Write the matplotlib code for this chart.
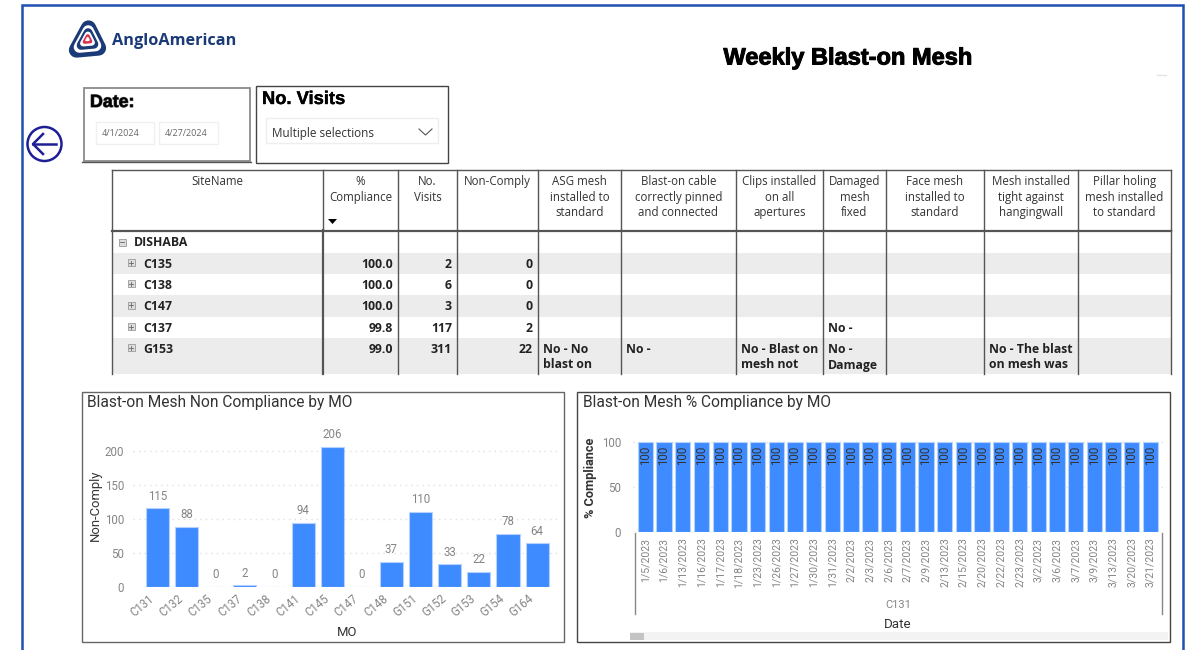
import matplotlib
matplotlib.use('Agg')

import matplotlib.pyplot as plt
import matplotlib.patheffects as pe
from matplotlib.patches import Circle, Polygon, Rectangle
from matplotlib.transforms import ScaledTranslation

# left chart
mo_names = ['C131', 'C132', 'C135', 'C137', 'C138', 'C141', 'C145', 'C147', 'C148',
            'G151', 'G152', 'G153', 'G154', 'G164']
non_comply = [115, 88, 0, 2, 0, 94, 206, 0, 37, 110, 33, 22, 78, 64]

# right chart
dates = ['1/5/2023', '1/6/2023', '1/13/2023', '1/16/2023', '1/17/2023', '1/18/2023', '1/23/2023',
         '1/26/2023', '1/27/2023', '1/30/2023', '1/31/2023', '2/2/2023', '2/3/2023', '2/6/2023',
         '2/7/2023', '2/9/2023', '2/13/2023', '2/15/2023', '2/20/2023', '2/22/2023', '2/23/2023',
         '3/2/2023', '3/6/2023', '3/7/2023', '3/9/2023', '3/13/2023', '3/20/2023', '3/21/2023']
compliance = [100] * len(dates)

# table
headers = ['SiteName', '%\nCompliance', 'No.\nVisits', 'Non-Comply', 'ASG mesh\ninstalled to\nstandard',
           'Blast-on cable\ncorrectly pinned\nand connected', 'Clips installed\non all\napertures',
           'Damaged\nmesh\nfixed', 'Face mesh\ninstalled to\nstandard',
           'Mesh installed\ntight against\nhangingwall', 'Pillar holing\nmesh installed\nto standard']
sites = ['C135', 'C138', 'C147', 'C137', 'G153']
pct_values = ['100.0', '100.0', '100.0', '99.8', '99.0']
visit_values = ['2', '6', '3', '117', '311']
noncomply_values = ['0', '0', '0', '2', '22']
reason_cells = [(3, 7, 'No -'), (4, 4, 'No - No\nblast on'), (4, 5, 'No -'),
                (4, 6, 'No - Blast on\nmesh not'), (4, 7, 'No -\nDamage'),
                (4, 9, 'No - The blast\non mesh was')]

col_x = [112, 323, 398, 457, 538, 621, 736, 823, 886, 984, 1078, 1171]
row_y = [231, 253, 274, 295, 317, 338, 374]

BAR = '#3e8bff'
BAR_EDGE = '#b5d2ff'
GREY = '#858585'
DARK = '#333333'
NAVY = '#1b3a78'
UI_FONT = 'Open Sans'
CHART_FONT = 'Roboto'

W, H = 1186, 650
fig = plt.figure(figsize=(W / 100, H / 100), dpi=100, facecolor='white')

# overlay in pixel coordinates for the report furniture
bg = fig.add_axes([0, 0, 1, 1], zorder=0)
bg.set_xlim(0, W)
bg.set_ylim(H, 0)
bg.axis('off')


def box(x0, y0, x1, y1, ec='#555555', fc='white', lw=1.0, z=1):
    bg.add_patch(Rectangle((x0, y0), x1 - x0, y1 - y0, ec=ec, fc=fc, lw=lw, zorder=z))


def px_axes(left, top, right, bottom):
    return fig.add_axes([left / W, 1 - bottom / H, (right - left) / W, (bottom - top) / H],
                        facecolor='none', zorder=2)


# outer frame
box(22, 5, 1183, 655, ec='#1f4fb0', lw=1.8)
bg.plot([1157, 1166], [75, 75], color='#e2e2e2', lw=1, zorder=2)

# logo
logo_layers = [(NAVY, 1.0), ('white', 0.74), (NAVY, 0.58), ('white', 0.40), ('#d8344c', 0.26), ('white', 0.12)]
logo_pts = [(-11, 11), (1, -11), (11, 9)]
for col, s in logo_layers:
    pts = [(87.5 + px * s, 39 + py * s) for px, py in logo_pts]
    bg.add_patch(Polygon(pts, closed=True, fc=col, ec=col, lw=11 * s, joinstyle='round', zorder=2))
bg.text(112, 41, 'AngloAmerican', fontsize=11.7, fontweight='bold', family='Open Sans',
        color=NAVY, va='center', ha='left', zorder=2)

# title
bg.text(848, 58, 'Weekly Blast-on Mesh', fontsize=17, fontweight='bold', family='Liberation Sans',
        color='black', ha='center', va='center', zorder=2,
        path_effects=[pe.withStroke(linewidth=0.7, foreground='black')])

# back arrow
bg.add_patch(Circle((44.5, 144), 17, fc='white', ec='#1e1e96', lw=1.8, zorder=2))
bg.plot([33, 56], [144, 144], color='#1e1e96', lw=1.8, zorder=3)
bg.plot([43, 33, 43], [134, 144, 154], color='#1e1e96', lw=1.8, zorder=3)

# date slicer
box(84, 88, 250, 161, ec='#8a8a8a', lw=1.3)
bg.plot([82, 251], [161.5, 161.5], color='#555555', lw=1.0, zorder=2)
bg.text(90, 102.5, 'Date:', fontsize=12.8, fontweight='bold', family='Liberation Sans', color='black',
        va='center', zorder=2, path_effects=[pe.withStroke(linewidth=0.8, foreground='#555555')])
box(96, 122, 154, 144, ec='#f0f0f0')
box(159, 122, 218, 144, ec='#f0f0f0')
bg.text(101.5, 134, '4/1/2024', fontsize=6.5, family=UI_FONT, color='#666666', ha='left', va='center', zorder=2)
bg.text(165, 134, '4/27/2024', fontsize=6.5, family=UI_FONT, color='#666666', ha='left', va='center', zorder=2)

# visits slicer
box(256, 86, 448, 163, ec='#444444', lw=1.0)
bg.text(262, 99.5, 'No. Visits', fontsize=13.2, fontweight='bold', family='Liberation Sans', color='black',
        va='center', zorder=2, path_effects=[pe.withStroke(linewidth=0.3, foreground='black')])
box(266, 118, 438, 143, ec='#eeeeee')
bg.text(272, 133, 'Multiple selections', fontsize=8.5, family=UI_FONT, color='#333333', va='center', zorder=2)
bg.plot([419, 425.5, 432], [129, 135, 129], color='#555555', lw=0.8, zorder=2)

# table stripes
for i in range(len(sites)):
    if i % 2 == 0:
        bg.add_patch(Rectangle((col_x[0], row_y[i + 1]), col_x[-1] - col_x[0], row_y[i + 2] - row_y[i + 1],
                               fc='#ececec', ec='none', zorder=1))

# table lines
for j, x in enumerate(col_x):
    lw = 1.6 if j == 1 else 1.0
    bg.plot([x, x], [170, 230], color='#555555', lw=1.0, zorder=2)
    bg.plot([x, x], [230, row_y[-1]], color='#555555', lw=lw, zorder=2)
bg.plot([col_x[0], col_x[-1]], [170, 170], color='#555555', lw=1.0, zorder=2)
bg.plot([col_x[0], col_x[-1]], [230.5, 230.5], color='#555555', lw=1.6, zorder=2)

# table text
for j, head in enumerate(headers):
    bg.text((col_x[j] + col_x[j + 1]) / 2, 175, head, fontsize=8.3, family=UI_FONT, color='#333333',
            ha='center', va='top', linespacing=1.26, zorder=3)
bg.add_patch(Polygon([(328, 219), (337, 219), (332.5, 224)], fc='black', ec='none', zorder=3))


def expander(x, y, plus):
    bg.add_patch(Rectangle((x - 3.5, y - 3.5), 7, 7, fc='#dddddd', ec='#999999', lw=0.6, zorder=3))
    bg.plot([x - 2, x + 2], [y, y], color='#666666', lw=0.6, zorder=4)
    if plus:
        bg.plot([x, x], [y - 2, y + 2], color='#666666', lw=0.6, zorder=4)


expander(122, 242, False)
bg.text(134, 243, 'DISHABA', fontsize=8.8, fontweight='bold', family=UI_FONT, color='#222222', va='center', zorder=3)

for i, site in enumerate(sites):
    y = (row_y[i + 1] + row_y[i + 2]) / 2 + 1 if i < 4 else row_y[i + 1] + 11.5
    expander(131, y - 2, True)
    bg.text(143, y, site, fontsize=8.8, fontweight='bold', family=UI_FONT, color='#222222', va='center', zorder=3)
    bg.text(393, y, pct_values[i], fontsize=8.8, fontweight='bold', family=UI_FONT, color='#222222',
            ha='right', va='center', zorder=3)
    bg.text(452, y, visit_values[i], fontsize=8.8, fontweight='bold', family=UI_FONT, color='#222222',
            ha='right', va='center', zorder=3)
    bg.text(533, y, noncomply_values[i], fontsize=8.8, fontweight='bold', family=UI_FONT, color='#222222',
            ha='right', va='center', zorder=3)

for row, col, txt in reason_cells:
    bg.text(col_x[col] + 5, row_y[row + 1] + 5, txt, fontsize=8.8, fontweight='bold', family=UI_FONT,
            color='#222222', va='top', linespacing=1.25, zorder=3)

# chart panels
box(82, 392, 564, 642, ec='#666666', lw=1.0)
box(577, 392, 1170, 642, ec='#444444', lw=1.0)
bg.text(87, 403, 'Blast-on Mesh Non Compliance by MO', fontsize=11.2, family=CHART_FONT, color=DARK, va='center', zorder=2)
bg.text(583, 403, 'Blast-on Mesh % Compliance by MO', fontsize=11.2, family=CHART_FONT, color=DARK, va='center', zorder=2)


def style_axes(ax):
    for s in ax.spines.values():
        s.set_visible(False)
    ax.set_axisbelow(True)
    ax.grid(axis='y', color='#e0e0e0', lw=1, linestyle=(0, (1, 3)))
    ax.tick_params(length=0, colors=GREY, labelsize=8.3)


# left chart
ax1 = px_axes(133, 416, 560, 586.7)
positions = list(range(len(mo_names)))
bars = ax1.bar(positions, non_comply, width=0.79, color=BAR, edgecolor=BAR_EDGE, linewidth=0.8)
ax1.set_xlim(-0.83, 13.78)
ax1.set_ylim(0, 251)
ax1.set_yticks([0, 50, 100, 150, 200])
style_axes(ax1)
ax1.set_xticks(positions)
ax1.set_xticklabels(mo_names, rotation=40, ha='right', rotation_mode='anchor', family=CHART_FONT)
ax1.tick_params(axis='x', pad=4)
ax1.tick_params(axis='y', pad=6.5)
shift = ScaledTranslation(-9 / 100, 0, fig.dpi_scale_trans)
for lab in ax1.get_xticklabels():
    lab.set_transform(lab.get_transform() + shift)
for lab in ax1.get_yticklabels():
    lab.set_family(CHART_FONT)
ax1.bar_label(bars, labels=[str(v) for v in non_comply], padding=4, color=GREY, fontsize=8.3, family=CHART_FONT)
bg.text(95, 505, 'Non-Comply', rotation=90, fontsize=9.4, family=CHART_FONT, color=DARK, ha='center', va='center', zorder=2)
bg.text(347.5, 632, 'MO', fontsize=9.4, family=CHART_FONT, color=DARK, ha='center', va='center', zorder=2)

# right chart
ax2 = px_axes(633, 432, 1167, 532)
positions2 = list(range(len(dates)))
bars2 = ax2.bar(positions2, compliance, width=0.82, color=BAR, edgecolor=BAR_EDGE, linewidth=0.8)
ax2.set_xlim(-0.66, 27.88)
ax2.set_ylim(0, 111)
ax2.set_yticks([0, 50, 100])
style_axes(ax2)
ax2.set_xticks(positions2)
ax2.set_xticklabels(dates, rotation=90, family=CHART_FONT, fontsize=7.6)
ax2.tick_params(axis='x', pad=4)
ax2.tick_params(axis='y', pad=8.5)
for lab in ax2.get_yticklabels():
    lab.set_family(CHART_FONT)
ax2.bar_label(bars2, labels=[str(v) for v in compliance], label_type='edge', padding=-16.5, rotation=90,
              color='#333333', fontsize=8.3, family=CHART_FONT)
bg.text(590.5, 478, '% Compliance', rotation=90, fontsize=9.2, family=CHART_FONT, color=DARK,
        fontweight='bold', ha='center', va='center', zorder=2)
bg.plot([635, 635], [533, 614], color='#888888', lw=1, zorder=2)
bg.plot([1162, 1162], [533, 614], color='#888888', lw=1, zorder=2)
bg.text(898, 605, 'C131', fontsize=8, family=CHART_FONT, color=GREY, ha='center', va='center', zorder=2)
bg.text(898, 625, 'Date', fontsize=9.6, family=CHART_FONT, color=DARK, ha='center', va='center', zorder=2)

# scrollbar
bg.add_patch(Rectangle((630, 632), 538, 8, fc='#f3f3f3', ec='none', zorder=2))
bg.add_patch(Rectangle((630, 633), 14, 7, fc='#c4c4c4', ec='none', zorder=3))

fig.savefig('out.png', dpi=100)
plt.close(fig)
